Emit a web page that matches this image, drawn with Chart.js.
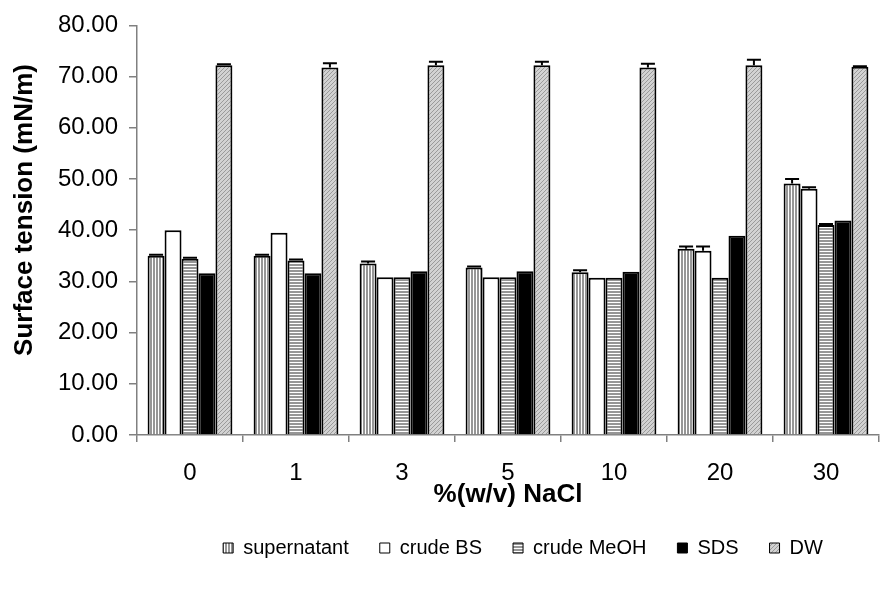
<!DOCTYPE html>
<html><head><meta charset="utf-8">
<script src="https://cdn.jsdelivr.net/npm/chart.js@4/dist/chart.umd.min.js"></script>
<style>html,body{margin:0;padding:0;background:#fff}#wrap{width:884px;height:593px}</style>
</head><body><div id="wrap"><canvas id="c" width="884" height="593"></canvas></div>
<script>
// ---- data ----
const categories = ['0', '1', '3', '5', '10', '20', '30'];
const seriesNames = ['supernatant', 'crude BS', 'crude MeOH', 'SDS', 'DW'];
const supernatant    = [35.0, 35.0, 33.5, 32.7, 31.8, 36.4, 49.1];
const supernatantErr = [0.2, 0.2, 0.4, 0.2, 0.4, 0.4, 0.9];
const crudeBS        = [40.0, 39.5, 30.8, 30.8, 30.7, 36.0, 48.1];
const crudeBSErr     = [0, 0, 0, 0, 0, 0.8, 0.3];
const crudeMeOH      = [34.4, 34.1, 30.8, 30.8, 30.7, 30.7, 41.0];
const crudeMeOHErr   = [0.2, 0.2, 0, 0, 0, 0, 0.2];
const sds            = [31.6, 31.6, 32.0, 32.0, 31.9, 38.9, 41.9];
const sdsErr         = [0, 0, 0, 0, 0, 0, 0];
const dw             = [72.2, 71.8, 72.2, 72.2, 71.8, 72.2, 71.9];
const dwErr          = [0.2, 0.8, 0.7, 0.7, 0.7, 1.1, 0.1];
const yMin = 0, yMax = 80, yStep = 10;
const xTitle = '%(w/v) NaCl';
const yTitle = 'Surface tension (mN/m)';

// ---- patterns ----
const canvas = document.getElementById('c');
const ctx = canvas.getContext('2d');
function makePattern(w, h, draw) {
  const c = document.createElement('canvas');
  c.width = w; c.height = h;
  const g = c.getContext('2d');
  draw(g);
  return ctx.createPattern(c, 'repeat');
}
const vStripes = makePattern(3, 1, g => { g.fillStyle = '#fff'; g.fillRect(0,0,3,1); g.fillStyle = '#969696'; g.fillRect(0,0,2,1); });
const hStripes = makePattern(1, 3, g => { g.fillStyle = '#fff'; g.fillRect(0,0,1,3); g.fillStyle = '#969696'; g.fillRect(0,0,1,2); });
const hatch = makePattern(4, 4, g => {
  g.fillStyle = '#d2d2d2'; g.fillRect(0,0,4,4);
  g.fillStyle = '#9a9a9a';
  for (let i = 0; i < 4; i++) g.fillRect(i, 3 - i, 1, 1);
});

Chart.defaults.font.family = '"Liberation Sans", Arial, sans-serif';
Chart.defaults.color = '#000';

const errorBars = {
  id: 'errorBars',
  afterDatasetsDraw(chart) {
    const c = chart.ctx, ys = chart.scales.y;
    chart.data.datasets.forEach((ds, i) => {
      const meta = chart.getDatasetMeta(i);
      meta.data.forEach((bar, j) => {
        const e = ds.errors[j];
        if (!e) return;
        const yt = ys.getPixelForValue(ds.data[j] + e);
        const yv = ys.getPixelForValue(ds.data[j]);
        c.save();
        c.strokeStyle = '#000'; c.lineWidth = 2;
        c.beginPath();
        c.moveTo(bar.x, yv); c.lineTo(bar.x, yt);
        c.moveTo(bar.x - 7, yt); c.lineTo(bar.x + 7, yt);
        c.stroke();
        c.restore();
      });
    });
  }
};
const legendShift = {
  id: 'legendShift',
  afterLayout(chart) {
    const lg = chart.legend;
    const dx = 15;
    lg.left += dx; lg.right += dx;
    const h = lg.bottom - lg.top;
    lg.top = 507; lg.bottom = 507 + h;
  }
};
// y-axis title, centred on the reference's title position
const yAxisTitle = {
  id: 'yAxisTitle',
  afterDraw(chart) {
    const c = chart.ctx;
    c.save();
    c.translate(25, 210);
    c.rotate(-Math.PI / 2);
    c.font = 'bold 26px "Liberation Sans", Arial, sans-serif';
    c.fillStyle = '#000';
    c.textAlign = 'center';
    c.textBaseline = 'middle';
    c.fillText(yTitle, 0, 0);
    c.restore();
  }
};

const mk = (label, data, errors, bg) => ({
  label, data, errors, backgroundColor: bg, borderColor: '#000', borderWidth: 2,
  categoryPercentage: 0.8, barPercentage: 1.0
});

new Chart(ctx, {
  type: 'bar',
  data: {
    labels: categories,
    datasets: [
      mk(seriesNames[0], supernatant, supernatantErr, vStripes),
      mk(seriesNames[1], crudeBS, crudeBSErr, '#ffffff'),
      mk(seriesNames[2], crudeMeOH, crudeMeOHErr, hStripes),
      mk(seriesNames[3], sds, sdsErr, '#000000'),
      mk(seriesNames[4], dw, dwErr, hatch)
    ]
  },
  options: {
    responsive: false,
    animation: false,
    layout: { padding: { top: 20, right: 5, left: 0, bottom: 4 } },
    plugins: {
      tooltip: { enabled: false },
      legend: {
        position: 'bottom',
        fullSize: false,
        labels: {
          boxWidth: 10, boxHeight: 10, padding: 31,
          font: { size: 20 }, color: '#000',
          generateLabels(chart) {
            return Chart.defaults.plugins.legend.labels.generateLabels(chart).map(l => Object.assign(l, { lineWidth: 1 }));
          }
        }
      }
    },
    scales: {
      x: {
        grid: { offset: true, drawOnChartArea: false, tickLength: 7, color: '#808080', lineWidth: 1.5 },
        border: { color: '#808080', width: 1.5 },
        ticks: { font: { size: 24 }, color: '#000', padding: 17 },
        title: { display: true, text: xTitle, font: { size: 26, weight: 'bold' }, color: '#000', padding: { top: 0, bottom: 18 } },
        afterFit(s) { s.height = 93; }
      },
      y: {
        min: yMin, max: yMax,
        grid: { drawOnChartArea: false, tickLength: 8, color: '#808080', lineWidth: 1.5 },
        border: { color: '#808080', width: 1.5 },
        ticks: { stepSize: yStep, font: { size: 24 }, color: '#000', padding: 11, callback: v => Number(v).toFixed(2) },
        afterFit(s) { s.width = 137; }
      }
    }
  },
  plugins: [errorBars, legendShift, yAxisTitle]
});
</script></body></html>
